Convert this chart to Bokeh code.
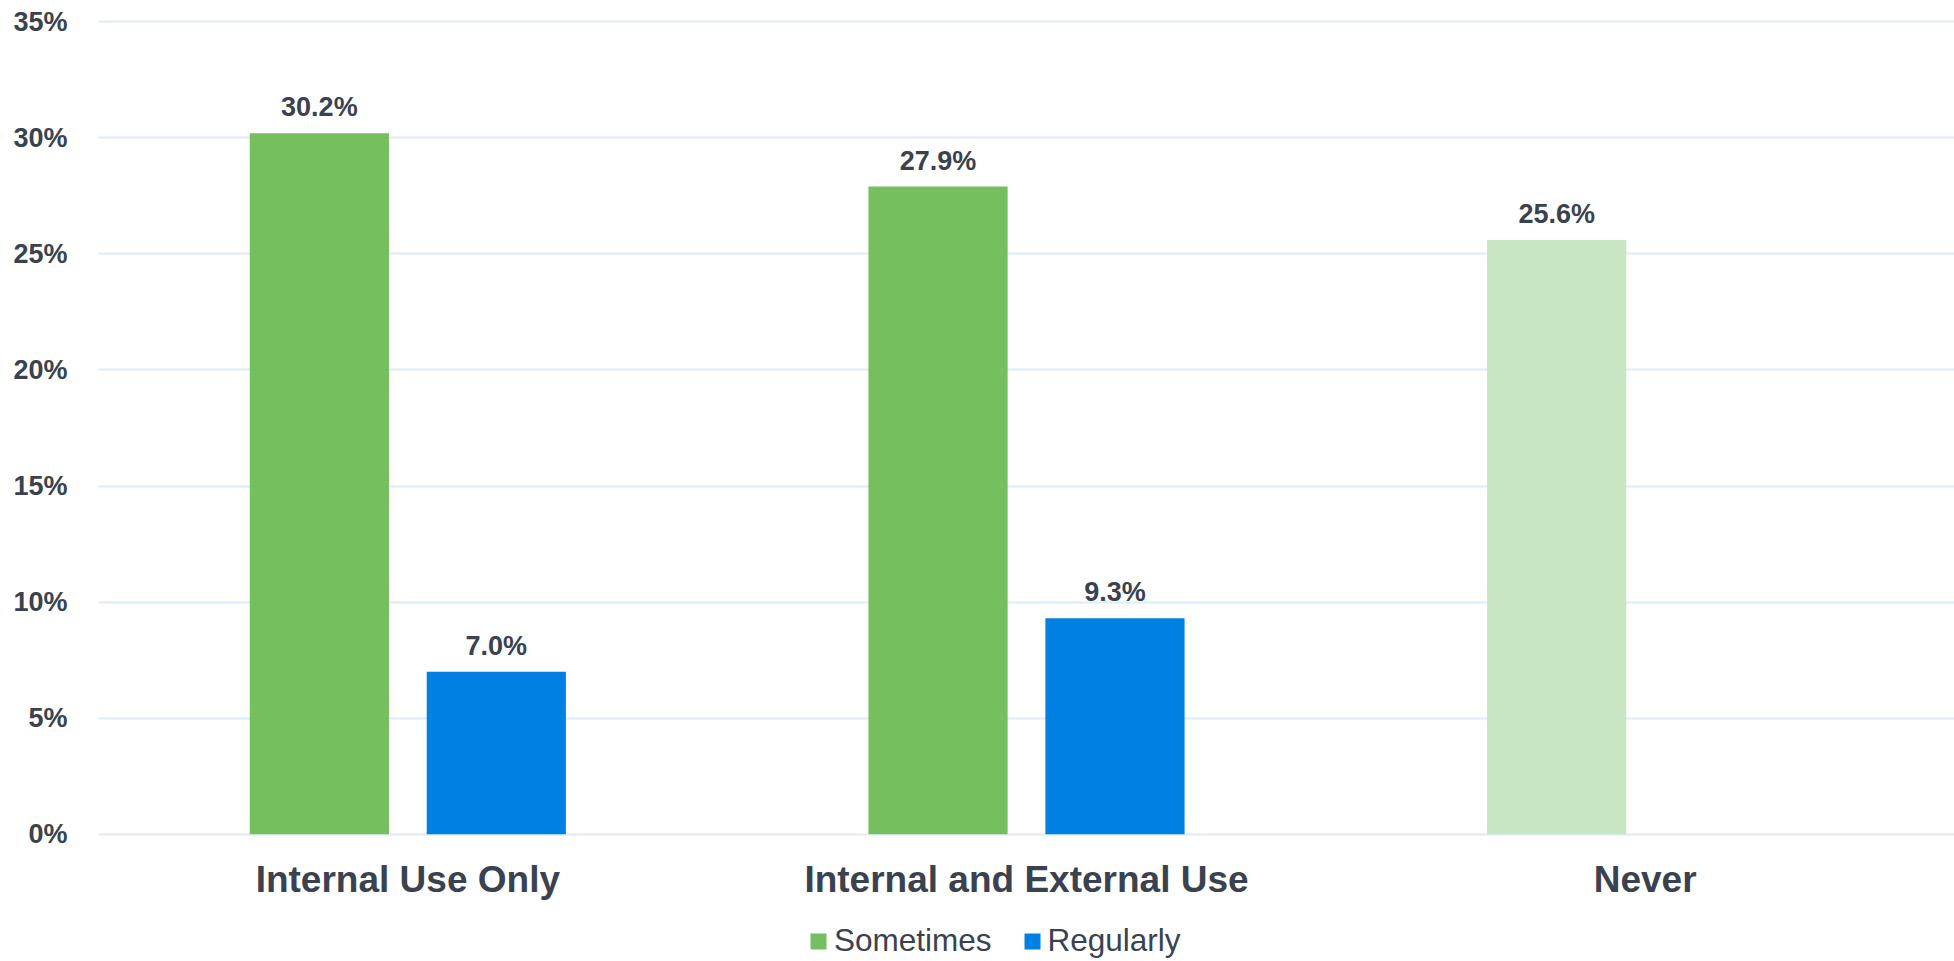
from bokeh.plotting import figure
from bokeh.layouts import column
from bokeh.models import (ColumnDataSource, FactorRange, Range1d, FixedTicker,
                          PrintfTickFormatter, Legend, LegendItem, LabelSet)
from bokeh.core.properties import value
from bokeh.transform import dodge
from bokeh.embed import file_html
from bokeh.resources import INLINE

categories = ["Internal Use Only", "Internal and External Use", "Never"]
series_names = ["Sometimes", "Regularly"]
sometimes = [30.2, 27.9, 25.6]
regularly = [7.0, 9.3, None]
sometimes_colors = ["#75bf5f", "#75bf5f", "#c8e6c2"]
regularly_color = "#0080e2"
y_ticks = [0, 5, 10, 15, 20, 25, 30, 35]

TEXT = "#3a4250"
FONT = "Liberation Sans"

p = figure(x_range=FactorRange(*categories, range_padding=0),
           y_range=Range1d(-0.1, 35.1),
           width=1954, height=915, output_backend="svg", toolbar_location=None,
           min_border_left=98, min_border_right=0, min_border_top=19,
           min_border_bottom=79, outline_line_color=None)

s_src = ColumnDataSource(dict(cat=categories, val=sometimes, color=sometimes_colors,
                              lab=[f"{v:.1f}%" for v in sometimes]))
r_cats = [c for c, v in zip(categories, regularly) if v is not None]
r_vals = [v for v in regularly if v is not None]
r_src = ColumnDataSource(dict(cat=r_cats, val=r_vals, lab=[f"{v:.1f}%" for v in r_vals]))

p.vbar(x=dodge("cat", -0.143, range=p.x_range), top="val", bottom=0, width=0.225,
       source=s_src, fill_color="color", line_color=None)
p.vbar(x=dodge("cat", 0.143, range=p.x_range), top="val", bottom=0, width=0.225,
       source=r_src, fill_color=regularly_color, line_color=None)

for src, off in ((s_src, -0.143), (r_src, 0.143)):
    p.add_layout(LabelSet(x=dodge("cat", off, range=p.x_range), y="val", text="lab",
                          source=src, text_align="center", text_baseline="alphabetic",
                          y_offset=17, text_font=value(FONT), text_font_style="bold",
                          text_font_size="27px", text_color=TEXT))

p.xgrid.grid_line_color = None
p.ygrid.grid_line_color = "#dcecf8"
p.ygrid.grid_line_width = 2
p.ygrid.ticker = FixedTicker(ticks=y_ticks)

p.yaxis.ticker = FixedTicker(ticks=y_ticks)
p.yaxis.formatter = PrintfTickFormatter(format="%d%%")
p.yaxis.axis_line_color = None
p.yaxis.major_tick_line_color = None
p.yaxis.minor_tick_line_color = None
p.yaxis.major_label_standoff = 25
p.yaxis.major_label_text_font = FONT
p.yaxis.major_label_text_font_style = "bold"
p.yaxis.major_label_text_font_size = "27px"
p.yaxis.major_label_text_color = TEXT

p.xaxis.axis_line_color = None
p.xaxis.major_tick_line_color = None
p.xaxis.minor_tick_line_color = None
p.xaxis.major_label_standoff = 16
p.xaxis.major_label_text_font = FONT
p.xaxis.major_label_text_font_style = "bold"
p.xaxis.major_label_text_font_size = "37px"
p.xaxis.major_label_text_color = TEXT

# legend strip below the chart (zero-size swatch renderers only feed the legend)
leg = figure(width=1954, height=46, output_backend="svg", toolbar_location=None,
             x_range=Range1d(0, 1), y_range=Range1d(0, 1),
             x_axis_location=None, y_axis_location=None,
             min_border_left=0, min_border_right=0, min_border_top=0,
             min_border_bottom=0, outline_line_color=None)
leg.grid.visible = False
swatch = ColumnDataSource(dict(l=[0], r=[0], b=[0], t=[0]))
g1 = leg.quad(left="l", right="r", bottom="b", top="t", source=swatch,
              fill_color=sometimes_colors[0], line_color=None)
g2 = leg.quad(left="l", right="r", bottom="b", top="t", source=swatch,
              fill_color=regularly_color, line_color=None)
legend = Legend(items=[LegendItem(label=series_names[0], renderers=[g1], index=0),
                       LegendItem(label=series_names[1], renderers=[g2], index=0)],
                orientation="horizontal", location=(710, 2),
                label_text_font=FONT, label_text_font_size="31.5px",
                label_text_color=TEXT, glyph_width=20, glyph_height=20,
                label_standoff=6, spacing=30, padding=0, margin=0,
                border_line_color=None, background_fill_alpha=0)
leg.add_layout(legend, "center")

open("out.html", "w").write(file_html(column(p, leg, spacing=0), INLINE))
